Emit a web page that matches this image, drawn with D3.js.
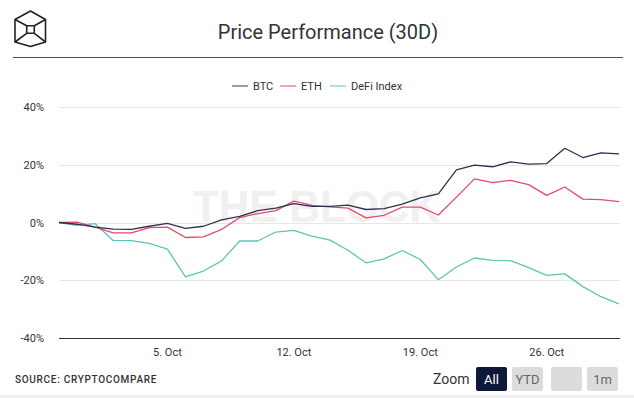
<!DOCTYPE html>
<html><head><meta charset="utf-8">
<script src="https://cdn.jsdelivr.net/npm/d3@7"></script>
<style>
html,body{margin:0;padding:0;background:#fff;}
svg{display:block;font-family:Roboto,"Noto Sans",sans-serif;}
</style></head>
<body><svg id="c" width="634" height="398"></svg>
<script>
const startDate = "2020-09-29";
const btc = [0, -0.6, -1.6, -2.3, -2.4, -1.3, -0.3, -2.0, -1.3, 0.9, 2.1, 4.1, 5.0, 6.5, 5.6, 5.6, 6.0, 4.5, 4.8, 6.4, 8.5, 9.9, 18.2, 19.9, 19.3, 21.0, 20.2, 20.4, 25.7, 22.5, 24.1, 23.8];
const eth = [0, 0.1, -1.6, -3.6, -3.6, -1.8, -1.6, -5.2, -5.0, -2.4, 1.7, 3.1, 4.1, 7.4, 5.9, 5.4, 5.0, 1.6, 2.5, 5.3, 5.3, 2.6, 8.8, 15.1, 13.8, 14.6, 13.1, 9.4, 12.3, 8.1, 7.9, 7.2];
const defi = [0, -1.0, -0.4, -6.2, -6.3, -7.2, -9.2, -18.8, -16.8, -13.3, -6.4, -6.4, -3.3, -2.7, -4.7, -6.1, -9.6, -14.0, -12.6, -9.7, -12.8, -19.8, -15.4, -12.3, -13.1, -13.2, -15.6, -18.3, -17.8, -22.2, -25.7, -28.2];
const seriesNames = ["BTC", "ETH", "DeFi Index"];
const yTicks = [-40, -20, 0, 20, 40];
const xTickDates = ["2020-10-05", "2020-10-12", "2020-10-19", "2020-10-26"];
const zoomButtons = ["All", "YTD", "", "1m"];

const colors = ["#2e2f52", "#e5496f", "#5cc5b5"];
const svg = d3.select("#c");
const parse = d3.utcParse("%Y-%m-%d");
const d0 = parse(startDate);
const dates = btc.map((_, i) => d3.utcDay.offset(d0, i));
const all = [btc, eth, defi];

const x = d3.scaleUtc().domain([dates[0], dates[dates.length - 1]]).range([59, 619]);
const y = d3.scaleLinear().domain([-40, 40]).range([338, 107]);

// header
const logo = svg.append("g").attr("fill", "none").attr("stroke", "#222").attr("stroke-width", 1.6).attr("stroke-linejoin", "round");
logo.append("path").attr("d", "M30.5,11 L45.5,19.5 L45.5,42 L30.5,46.5 L15,42 L15,19.5 Z");
logo.append("path").attr("d", "M26.7,25.7 L34.3,25.7 L34.3,33.3 L26.7,33.3 Z");
logo.append("path").attr("d", "M15,19.5 L26.7,25.7 M45.5,19.5 L34.3,25.7 M15,42 L26.7,33.3 M45.5,42 L34.3,33.3");
svg.append("text").attr("x", 328).attr("y", 39).attr("text-anchor", "middle")
  .attr("font-size", 20).attr("fill", "#333").text("Price Performance (30D)");
svg.append("line").attr("x1", 13).attr("x2", 623).attr("y1", 57.5).attr("y2", 57.5)
  .attr("stroke", "#7a2f90").attr("stroke-width", 1.2);

// legend
const legendX = [232, 280, 330];
seriesNames.forEach((n, i) => {
  const g = svg.append("g").attr("transform", `translate(${legendX[i]},86)`);
  g.append("line").attr("x1", 0).attr("x2", 16).attr("stroke", colors[i]).attr("stroke-width", 1.6).attr("opacity", 0.6);
  g.append("text").attr("x", 21).attr("y", 4).attr("font-size", 11).attr("fill", "#333").text(n);
});

// watermark
svg.append("text").attr("x", 193).attr("y", 222).attr("font-size", 44).attr("font-weight", "bold")
  .attr("font-family", "'Liberation Sans',Arial,sans-serif").attr("fill", "#f0f0f0")
  .attr("textLength", 247).attr("lengthAdjust", "spacingAndGlyphs").text("THE BLOCK");

// grid + y labels
yTicks.forEach(t => {
  svg.append("line").attr("x1", 59).attr("x2", 620).attr("y1", Math.round(y(t)) + 0.5).attr("y2", Math.round(y(t)) + 0.5)
    .attr("stroke", t === -40 ? "#333" : "#e6e6e6").attr("stroke-width", 1);
  svg.append("text").attr("x", 44).attr("y", y(t) + 4).attr("text-anchor", "end")
    .attr("font-size", 11).attr("fill", "#333").text(t + "%");
});

// x axis labels
const fmt = d3.utcFormat("%-d. %b");
xTickDates.forEach(s => {
  const d = parse(s);
  svg.append("text").attr("x", x(d)).attr("y", 356).attr("text-anchor", "middle")
    .attr("font-size", 11).attr("fill", "#333").text(fmt(d));
});

// lines
const line = d3.line().x((d, i) => x(dates[i])).y(d => y(d));
[2, 1, 0].forEach(k => {
  svg.append("path").datum(all[k]).attr("d", line).attr("fill", "none")
    .attr("stroke", colors[k]).attr("stroke-width", 1.3).attr("stroke-linejoin", "round");
});

// footer
svg.append("text").attr("x", 15).attr("y", 383).attr("font-size", 10).attr("fill", "#333")
  .attr("font-weight", 500).attr("letter-spacing", 0.7).text("SOURCE: CRYPTOCOMPARE");
svg.append("text").attr("x", 433).attr("y", 384).attr("font-size", 14).attr("fill", "#333").text("Zoom");
const bx = [476, 512, 551, 587];
zoomButtons.forEach((b, i) => {
  const active = i === 0;
  svg.append("rect").attr("x", bx[i]).attr("y", 367).attr("width", 31).attr("height", 24).attr("rx", 2)
    .attr("fill", active ? "#0e1838" : "#dcdcdc");
  svg.append("text").attr("x", bx[i] + 15.5).attr("y", 384).attr("text-anchor", "middle")
    .attr("font-size", 13).attr("fill", active ? "#fff" : "#666").text(b);
});
svg.append("rect").attr("x", 0).attr("y", 395).attr("width", 634).attr("height", 3).attr("fill", "#efefef");
</script></body></html>
